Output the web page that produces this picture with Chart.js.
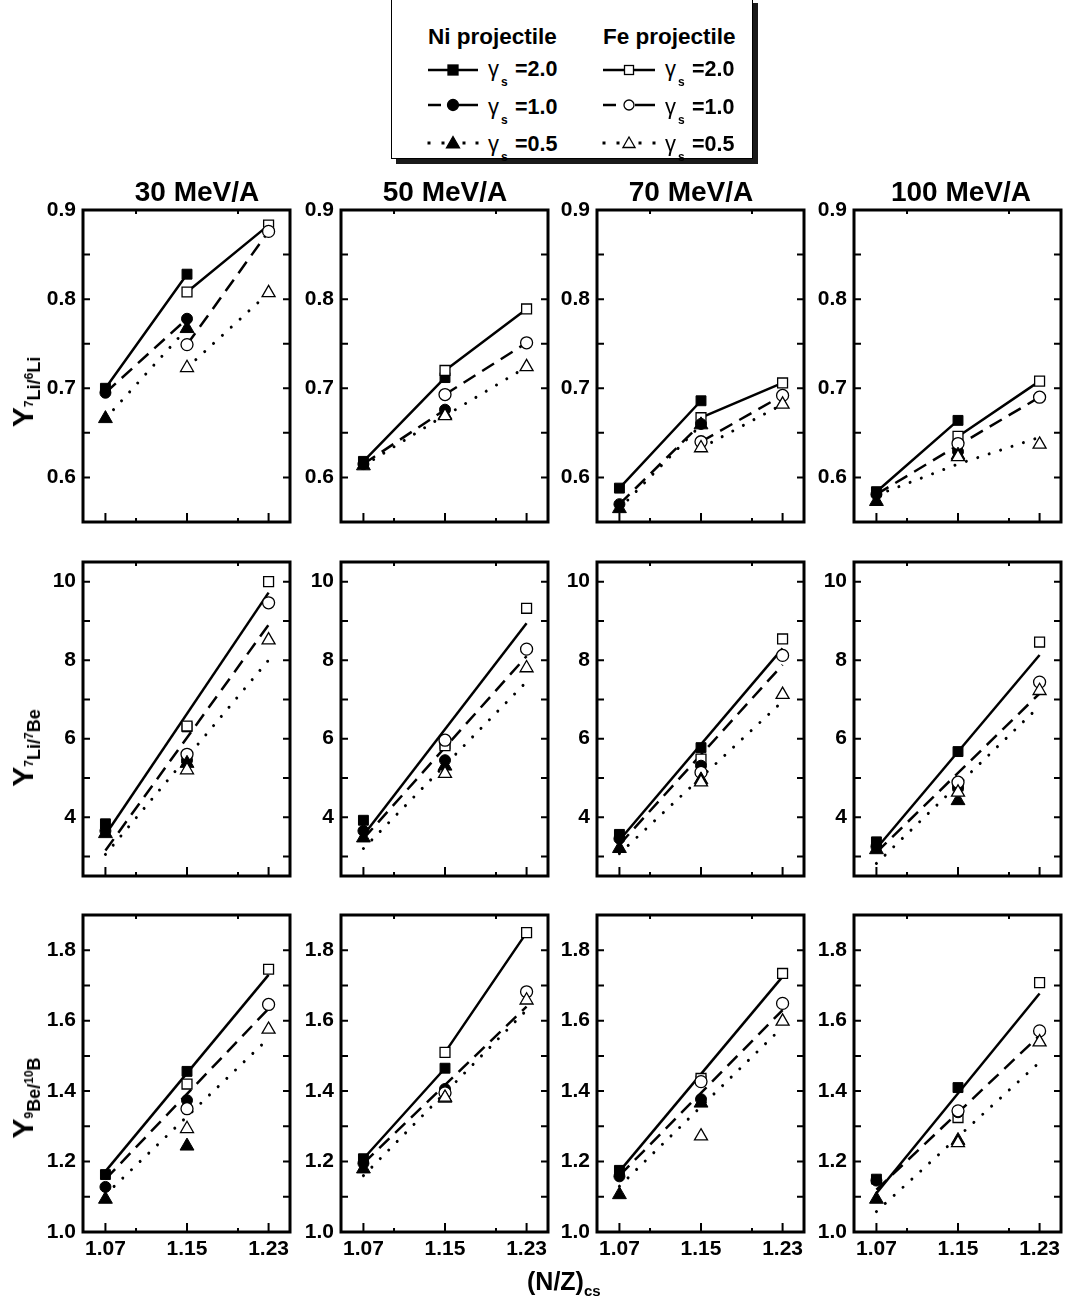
<!DOCTYPE html>
<html lang="en">
<head>
<meta charset="UTF-8">
<title>Isotope yield ratios vs (N/Z)cs</title>
<script src="https://cdn.jsdelivr.net/npm/chart.js"></script>
<style>
  * { box-sizing: border-box; margin: 0; padding: 0; }
  body {
    position: relative; width: 1067px; height: 1305px; overflow: hidden;
    background: #fff; color: #000;
    font-family: "Liberation Sans", Arial, sans-serif; font-weight: bold;
  }
  canvas { position: absolute; }
  .txt { position: absolute; line-height: 1; white-space: nowrap; }
  .title { font-size: 28px; top: 178px; transform: translateX(-50%); }
  .ylab { font-size: 30px; transform: translate(-50%, -50%) rotate(-90deg); }
  .ylab .sb { font-size: 18px; position: relative; top: 7px; }
  .ylab .sp { font-size: 12px; position: relative; top: -7px; }
  .xlab { font-size: 25px; left: 527px; top: 1269px; }
  .xlab span { font-size: 15px; position: relative; top: 6px; }
  .legend-box {
    position: absolute; left: 391px; top: -2px; width: 362px; height: 161px;
    border: 1.5px solid #000; box-shadow: 5px 5px 0 #1a1a1a; background: #fff;
  }
  .lg-head { font-size: 22.5px; }
  .lg-g { font-size: 22px; font-weight: normal; }
  .lg-s { font-size: 12px; }
  .lg-v { font-size: 21.5px; }
  #legendMarks { position: absolute; left: 0; top: 0; }
</style>
</head>
<body>
  <div class="legend-box"></div>
  <svg id="legendMarks" width="1067" height="170"></svg>

  <script>
    // ---- data ----
    const energies = ['30 MeV/A', '50 MeV/A', '70 MeV/A', '100 MeV/A'];
    const gammas = ['2.0', '1.0', '0.5'];
    const nzTicks = [1.07, 1.15, 1.23];
    const nzMinor = [1.10, 1.20];
    const niX = [1.07, 1.15];
    const feX = [1.15, 1.23];

    // row 1: Y(7Li)/Y(6Li), one pair per energy
    const liliTicks = [0.6, 0.7, 0.8, 0.9];
    const liliMinor = [0.65, 0.75, 0.85];
    const liliNi20 = [[0.700, 0.828], [0.618, 0.712], [0.588, 0.686], [0.584, 0.664]];
    const liliNi10 = [[0.695, 0.778], [0.615, 0.676], [0.570, 0.660], [0.581, 0.629]];
    const liliNi05 = [[0.666, 0.767], [0.613, 0.670], [0.565, 0.659], [0.573, 0.625]];
    const liliFe20 = [[0.808, 0.883], [0.720, 0.789], [0.667, 0.706], [0.646, 0.708]];
    const liliFe10 = [[0.749, 0.876], [0.693, 0.751], [0.640, 0.692], [0.638, 0.690]];
    const liliFe05 = [[0.723, 0.807], [0.669, 0.724], [0.633, 0.682], [0.623, 0.637]];
    const liliLine20 = [
      [[1.07, 0.700], [1.15, 0.828], null, [1.15, 0.808], [1.23, 0.883]],
      [[1.07, 0.618], [1.15, 0.712], null, [1.15, 0.720], [1.23, 0.789]],
      [[1.07, 0.588], [1.15, 0.686], null, [1.15, 0.667], [1.23, 0.706]],
      [[1.07, 0.584], [1.15, 0.664], null, [1.15, 0.646], [1.23, 0.708]]
    ];
    const liliLine10 = [
      [[1.07, 0.695], [1.15, 0.778], null, [1.15, 0.749], [1.23, 0.876]],
      [[1.07, 0.615], [1.15, 0.676], null, [1.15, 0.693], [1.23, 0.751]],
      [[1.07, 0.570], [1.15, 0.660], null, [1.15, 0.640], [1.23, 0.692]],
      [[1.07, 0.581], [1.15, 0.636], [1.23, 0.690]]
    ];
    const liliLine05 = [
      [[1.07, 0.666], [1.15, 0.767], null, [1.15, 0.723], [1.23, 0.807]],
      [[1.07, 0.613], [1.15, 0.670], null, [1.15, 0.669], [1.23, 0.724]],
      [[1.07, 0.565], [1.15, 0.659], null, [1.15, 0.633], [1.23, 0.682]],
      [[1.07, 0.580], [1.15, 0.615], [1.23, 0.645]]
    ];

    // row 2: Y(7Li)/Y(7Be)
    const libeTicks = [4, 6, 8, 10];
    const libeMinor = [3, 5, 7, 9];
    const libeNi20 = [[3.83, 6.30], [3.92, 5.85], [3.56, 5.77], [3.37, 5.67]];
    const libeNi10 = [[3.65, 5.45], [3.65, 5.45], [3.45, 5.31], [3.25, 4.75]];
    const libeNi05 = [[3.58, 5.37], [3.47, 5.30], [3.20, 4.95], [3.17, 4.42]];
    const libeFe20 = [[6.32, 10.0], [5.82, 9.32], [5.48, 8.54], [4.80, 8.46]];
    const libeFe10 = [[5.60, 9.46], [5.96, 8.28], [5.14, 8.12], [4.89, 7.44]];
    const libeFe05 = [[5.20, 8.51], [5.11, 7.80], [4.89, 7.12], [4.63, 7.22]];
    const libeLine20 = [
      [[1.07, 3.55], [1.23, 9.72]], [[1.07, 3.54], [1.23, 8.94]],
      [[1.07, 3.41], [1.23, 8.30]], [[1.07, 3.20], [1.23, 8.13]]
    ];
    const libeLine10 = [
      [[1.07, 3.15], [1.23, 8.90]], [[1.07, 3.45], [1.23, 8.10]],
      [[1.07, 3.30], [1.23, 7.88]], [[1.07, 3.10], [1.23, 7.15]]
    ];
    const libeLine05 = [
      [[1.07, 3.05], [1.23, 8.00]], [[1.07, 3.20], [1.23, 7.45]],
      [[1.07, 3.07], [1.23, 6.95]], [[1.07, 2.82], [1.23, 6.83]]
    ];

    // row 3: Y(9Be)/Y(10B)
    const bebTicks = [1.0, 1.2, 1.4, 1.6, 1.8];
    const bebMinor = [1.1, 1.3, 1.5, 1.7];
    const bebNi20 = [[1.163, 1.456], [1.208, 1.465], [1.175, 1.430], [1.150, 1.410]];
    const bebNi10 = [[1.128, 1.374], [1.195, 1.406], [1.158, 1.377], [1.146, 1.340]];
    const bebNi05 = [[1.093, 1.244], [1.179, 1.380], [1.106, 1.366], [1.093, 1.260]];
    const bebFe20 = [[1.420, 1.746], [1.510, 1.850], [1.436, 1.734], [1.325, 1.708]];
    const bebFe10 = [[1.350, 1.646], [1.395, 1.682], [1.427, 1.649], [1.344, 1.571]];
    const bebFe05 = [[1.293, 1.575], [1.382, 1.658], [1.272, 1.598], [1.253, 1.539]];
    const bebLine20 = [
      [[1.07, 1.172], [1.23, 1.730]],
      [[1.07, 1.208], [1.15, 1.465], null, [1.15, 1.510], [1.23, 1.850]],
      [[1.07, 1.172], [1.23, 1.725]],
      [[1.07, 1.110], [1.23, 1.677]]
    ];
    const bebLine10 = [
      [[1.07, 1.150], [1.23, 1.634]], [[1.07, 1.195], [1.23, 1.640]],
      [[1.07, 1.160], [1.23, 1.630]], [[1.07, 1.120], [1.23, 1.558]]
    ];
    const bebLine05 = [
      [[1.07, 1.106], [1.23, 1.550]], [[1.07, 1.160], [1.23, 1.630]],
      [[1.07, 1.130], [1.23, 1.582]], [[1.07, 1.058], [1.23, 1.482]]
    ];

    // ---- layout ----
    const plotLeft = [83, 341, 597, 854];
    const plotTop = [210, 562, 915];
    const plotH = [317, 319, 317];
    const plotW = 212;
    const axisW = 56, padTop = 16, padRight = 4;
    const titleCenter = [197, 445, 691, 961];

    const rows = [
      { min: 0.55, max: 0.9, ticks: liliTicks, minor: liliMinor, fmt: v => v.toFixed(1),
        ni: [liliNi20, liliNi10, liliNi05], fe: [liliFe20, liliFe10, liliFe05],
        lines: [liliLine20, liliLine10, liliLine05],
        label: 'Y<span class="sb"><span class="sp">7</span>Li/<span class="sp">6</span>Li</span>', labelY: 392 },
      { min: 2.5, max: 10.5, ticks: libeTicks, minor: libeMinor, fmt: v => String(v),
        ni: [libeNi20, libeNi10, libeNi05], fe: [libeFe20, libeFe10, libeFe05],
        lines: [libeLine20, libeLine10, libeLine05],
        label: 'Y<span class="sb"><span class="sp">7</span>Li/<span class="sp">7</span>Be</span>', labelY: 748 },
      { min: 1.0, max: 1.9, ticks: bebTicks, minor: bebMinor, fmt: v => v.toFixed(1),
        ni: [bebNi20, bebNi10, bebNi05], fe: [bebFe20, bebFe10, bebFe05],
        lines: [bebLine20, bebLine10, bebLine05],
        label: 'Y<span class="sb"><span class="sp">9</span>Be/<span class="sp">10</span>B</span>', labelY: 1098 }
    ];

    // line / marker style per gamma (2.0, 1.0, 0.5)
    const styles = [
      { shape: 'rect', dash: [], cap: 'butt', width: 2.5, rFill: 7, rOpen: 7 },
      { shape: 'circle', dash: [14, 8], cap: 'butt', width: 2.5, rFill: 5.5, rOpen: 6 },
      { shape: 'triangle', dash: [0.01, 12], cap: 'round', width: 3, rFill: 8, rOpen: 7.5 }
    ];

    Chart.defaults.font.family = '"Liberation Sans", Arial, sans-serif';
    Chart.defaults.font.size = 21;
    Chart.defaults.font.weight = 'bold';
    Chart.defaults.color = '#000';

    // frame with inward tick marks on all sides
    const frameTicks = {
      id: 'frameTicks',
      afterDatasetsDraw(chart, args, opts) {
        const { ctx, chartArea: a, scales: { x, y } } = chart;
        ctx.save();
        ctx.strokeStyle = '#000';
        ctx.lineWidth = 2;
        ctx.beginPath();
        opts.yAll.forEach(v => {
          const py = y.getPixelForValue(v);
          ctx.moveTo(a.left, py); ctx.lineTo(a.left + 7, py);
          ctx.moveTo(a.right, py); ctx.lineTo(a.right - 7, py);
        });
        nzTicks.forEach(v => {
          const px = x.getPixelForValue(v);
          ctx.moveTo(px, a.bottom); ctx.lineTo(px, a.bottom - 9);
        });
        nzMinor.forEach(v => {
          const px = x.getPixelForValue(v);
          ctx.moveTo(px, a.bottom); ctx.lineTo(px, a.bottom - 4);
          ctx.moveTo(px, a.top); ctx.lineTo(px, a.top + 4);
        });
        ctx.stroke();
        ctx.lineWidth = 3;
        ctx.strokeRect(a.left, a.top, a.right - a.left, a.bottom - a.top);
        ctx.restore();
      }
    };

    // draw order: squares at the bottom, then circles, then triangles; Fe over Ni
    function panelDatasets(row, col) {
      const sets = [];
      row.lines.forEach((arr, g) => {
        sets.push({
          data: arr[col].map(p => p ? { x: p[0], y: p[1] } : { x: 1.15, y: null }),
          showLine: true, spanGaps: false, pointRadius: 0,
          borderColor: '#000', borderWidth: styles[g].width,
          borderDash: styles[g].dash, borderCapStyle: styles[g].cap,
          order: 10, clip: false
        });
      });
      row.ni.forEach((arr, g) => {
        sets.push({
          data: niX.map((x, i) => ({ x, y: arr[col][i] })),
          pointStyle: styles[g].shape, pointRadius: styles[g].rFill,
          backgroundColor: '#000', borderColor: '#000', borderWidth: 1,
          order: 6 - 2 * g, clip: false
        });
      });
      row.fe.forEach((arr, g) => {
        sets.push({
          data: feX.map((x, i) => ({ x, y: arr[col][i] })),
          pointStyle: styles[g].shape, pointRadius: styles[g].rOpen,
          backgroundColor: '#fff', borderColor: '#000', borderWidth: 1.3,
          order: 5 - 2 * g, clip: false
        });
      });
      return sets;
    }

    rows.forEach((row, r) => {
      const last = r === rows.length - 1;
      const bottomH = last ? 40 : 4;
      energies.forEach((e, c) => {
        const cv = document.createElement('canvas');
        const w = axisW + plotW + padRight;
        const h = padTop + plotH[r] + bottomH;
        cv.width = w; cv.height = h;
        cv.style.left = (plotLeft[c] - axisW) + 'px';
        cv.style.top = (plotTop[r] - padTop) + 'px';
        cv.style.width = w + 'px'; cv.style.height = h + 'px';
        document.body.appendChild(cv);

        new Chart(cv, {
          type: 'scatter',
          data: { datasets: panelDatasets(row, c) },
          options: {
            responsive: false, animation: false, devicePixelRatio: 1, events: [],
            layout: { padding: { top: padTop, right: padRight, left: 0, bottom: 0 } },
            plugins: {
              legend: { display: false }, tooltip: { enabled: false },
              frameTicks: { yAll: row.ticks.concat(row.minor) }
            },
            scales: {
              x: {
                type: 'linear', min: 1.048, max: 1.251,
                grid: { display: false, drawTicks: false }, border: { display: false },
                ticks: { display: last, padding: 5, callback: v => v.toFixed(2) },
                afterBuildTicks: s => { s.ticks = nzTicks.map(v => ({ value: v })); },
                afterFit: s => { s.height = bottomH; s.paddingLeft = 0; s.paddingRight = 0; }
              },
              y: {
                type: 'linear', min: row.min, max: row.max,
                grid: { display: false, drawTicks: false }, border: { display: false },
                ticks: { padding: 7, callback: v => row.fmt(v) },
                afterBuildTicks: s => { s.ticks = row.ticks.map(v => ({ value: v })); },
                afterFit: s => { s.width = axisW; s.paddingTop = 0; s.paddingBottom = 0; }
              }
            }
          },
          plugins: [frameTicks]
        });

        if (r === 0) {
          const t = document.createElement('div');
          t.className = 'txt title';
          t.style.left = titleCenter[c] + 'px';
          t.textContent = e;
          document.body.appendChild(t);
        }
      });

      const yl = document.createElement('div');
      yl.className = 'txt ylab';
      yl.style.left = '23px';
      yl.style.top = row.labelY + 'px';
      yl.innerHTML = row.label;
      document.body.appendChild(yl);
    });

    const xl = document.createElement('div');
    xl.className = 'txt xlab';
    xl.innerHTML = '(N/Z)<span>cs</span>';
    document.body.appendChild(xl);

    // ---- legend ----
    function addText(cls, left, baseline, size, html) {
      const d = document.createElement('div');
      d.className = 'txt ' + cls;
      d.style.left = left + 'px';
      d.style.top = (baseline - 0.8465 * size) + 'px';
      d.innerHTML = html;
      document.body.appendChild(d);
    }
    addText('lg-head', 428, 45, 22.5, 'Ni projectile');
    addText('lg-head', 603, 45, 22.5, 'Fe projectile');

    const svg = document.getElementById('legendMarks');
    const NS = 'http://www.w3.org/2000/svg';
    function el(tag, attrs) {
      const n = document.createElementNS(NS, tag);
      Object.keys(attrs).forEach(k => n.setAttribute(k, attrs[k]));
      svg.appendChild(n);
    }
    function marker(g, cx, cy, filled) {
      const fill = filled ? '#000' : '#fff';
      if (g === 0) {
        const s = filled ? 10 : 9;
        el('rect', { x: cx - s / 2, y: cy - s / 2, width: s, height: s, fill, stroke: '#000', 'stroke-width': 1.3 });
      } else if (g === 1) {
        el('circle', { cx, cy, r: filled ? 5.5 : 5, fill, stroke: '#000', 'stroke-width': 1.3 });
      } else {
        const r = filled ? 7.5 : 7;
        const pts = [0, 1, 2].map(k => {
          const a = k * 2 * Math.PI / 3;
          return (cx + Math.sin(a) * r) + ',' + (cy + 1 - Math.cos(a) * r);
        }).join(' ');
        el('polygon', { points: pts, fill, stroke: '#000', 'stroke-width': 1.3 });
      }
    }
    const rowY = [70, 105, 143];
    const rowBase = [77, 115, 152];
    [[428, 453, 478, true, 488, 515], [603, 629, 655, false, 665, 692]].forEach(([x0, xm, x1, filled, xg, xv]) => {
      gammas.forEach((gv, g) => {
        const y = rowY[g];
        if (g === 0) {
          el('line', { x1: x0, y1: y, x2: x1, y2: y, stroke: '#000', 'stroke-width': 2.5 });
        } else if (g === 1) {
          el('line', { x1: x0, y1: y, x2: x0 + 13, y2: y, stroke: '#000', 'stroke-width': 2.5 });
          el('line', { x1: xm + 6, y1: y, x2: x1, y2: y, stroke: '#000', 'stroke-width': 2.5 });
        } else {
          [x0 + 1, x0 + 15, xm + 11, x1 - 1].forEach(dx => {
            el('rect', { x: dx - 1.5, y: y - 1.5, width: 3, height: 3, fill: '#000' });
          });
        }
        marker(g, xm, y, filled);
        addText('lg-g', xg, rowBase[g], 22, '&gamma;');
        addText('lg-s', xg + 13, rowBase[g] + 9, 12, 's');
        addText('lg-v', xv, rowBase[g], 21.5, '=' + gv);
      });
    });
  </script>
</body>
</html>
